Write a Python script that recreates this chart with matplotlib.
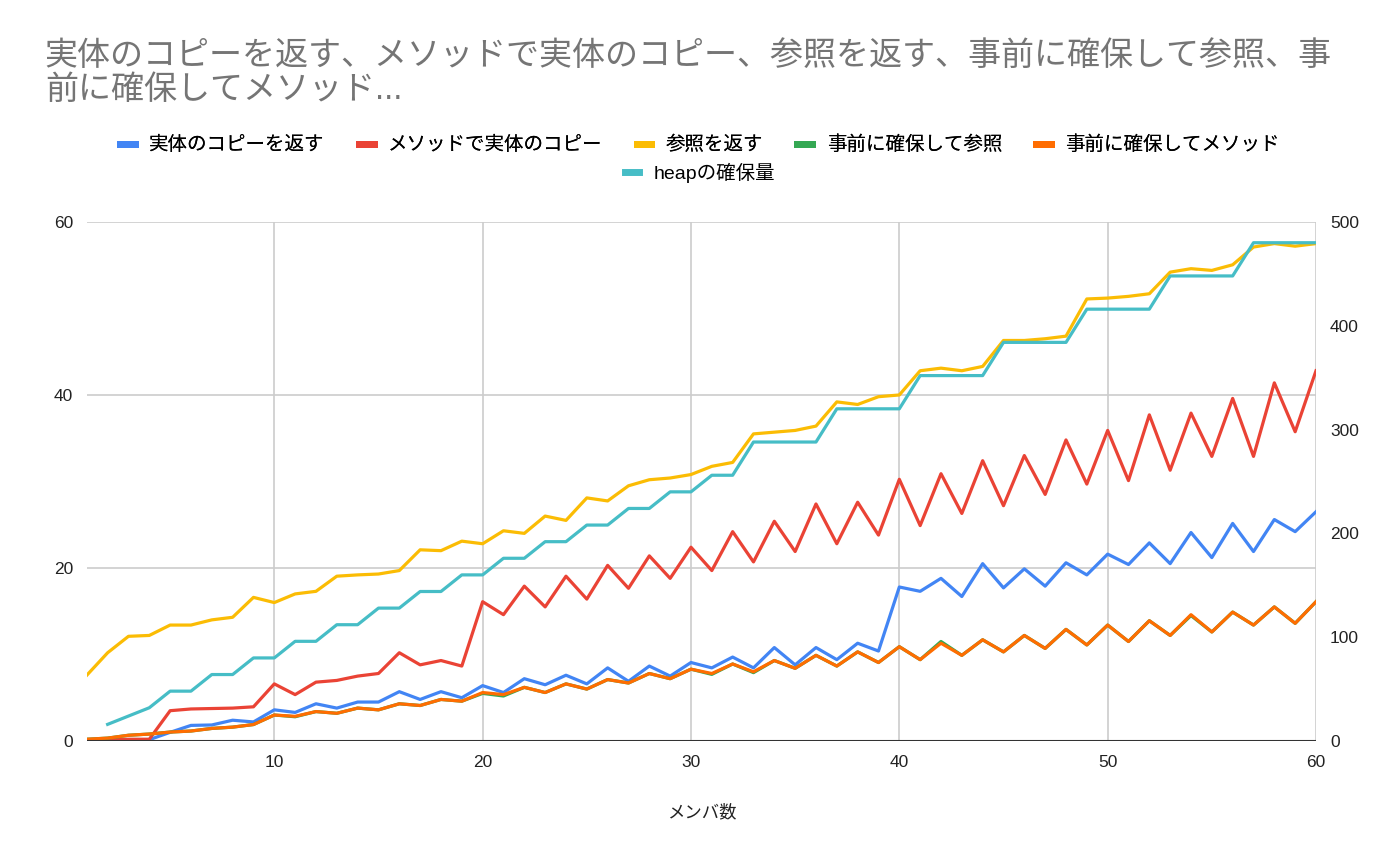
import numpy as np
import matplotlib
matplotlib.use("Agg")
import matplotlib.pyplot as plt
from matplotlib.lines import Line2D

plt.rcParams['font.family'] = ['Liberation Sans', 'Noto Sans CJK JP', 'DejaVu Sans']

members = list(range(1, 61))

copy_return = [0.1, 0.1, 0.1, 0.15, 1.0, 1.8, 1.85, 2.4, 2.2, 3.6,
               3.3, 4.3, 3.8, 4.5, 4.5, 5.7, 4.8, 5.7, 5.0, 6.4,
               5.6, 7.2, 6.5, 7.6, 6.6, 8.45, 6.9, 8.66, 7.5, 9.07,
               8.45, 9.7, 8.45, 10.8, 8.8, 10.8, 9.4, 11.3, 10.4, 17.8,
               17.3, 18.8, 16.7, 20.5, 17.7, 19.9, 17.9, 20.6, 19.2, 21.6,
               20.4, 22.9, 20.5, 24.1, 21.2, 25.15, 21.9, 25.6, 24.2, 26.5]

method_copy = [0.1, 0.15, 0.2, 0.2, 3.5, 3.7, 3.75, 3.8, 3.95, 6.6,
               5.36, 6.8, 7.0, 7.5, 7.8, 10.2, 8.8, 9.3, 8.66, 16.1,
               14.6, 17.9, 15.5, 19.05, 16.4, 20.3, 17.65, 21.4, 18.8, 22.4,
               19.7, 24.2, 20.7, 25.4, 21.9, 27.4, 22.8, 27.6, 23.8, 30.25,
               24.9, 30.9, 26.3, 32.4, 27.2, 33.0, 28.5, 34.8, 29.7, 35.9,
               30.1, 37.7, 31.3, 37.9, 32.9, 39.6, 32.9, 41.4, 35.75, 42.8]

ref_return = [7.6, 10.2, 12.1, 12.2, 13.4, 13.4, 14.0, 14.3, 16.6, 16.0,
              17.0, 17.3, 19.05, 19.2, 19.3, 19.7, 22.1, 22.0, 23.1, 22.8,
              24.3, 24.0, 26.0, 25.5, 28.1, 27.75, 29.5, 30.2, 30.4, 30.8,
              31.75, 32.2, 35.5, 35.7, 35.9, 36.4, 39.2, 38.9, 39.8, 40.0,
              42.8, 43.1, 42.8, 43.3, 46.3, 46.3, 46.5, 46.8, 51.1, 51.2,
              51.4, 51.7, 54.2, 54.6, 54.4, 55.05, 57.1, 57.5, 57.2, 57.5]

prealloc_ref = [0.2, 0.33, 0.66, 0.8, 1.03, 1.15, 1.45, 1.6, 1.9, 3.0,
                2.8, 3.4, 3.2, 3.8, 3.6, 4.3, 4.1, 4.8, 4.6, 5.5,
                5.2, 6.2, 5.6, 6.6, 6.0, 7.1, 6.7, 7.8, 7.2, 8.3,
                7.7, 8.9, 7.9, 9.3, 8.4, 9.9, 8.66, 10.3, 9.07, 10.9,
                9.4, 11.5, 9.9, 11.7, 10.3, 12.2, 10.7, 12.9, 11.1, 13.4,
                11.5, 13.9, 12.2, 14.5, 12.6, 14.9, 13.4, 15.5, 13.6, 16.1]

prealloc_method = [0.2, 0.33, 0.66, 0.8, 1.03, 1.15, 1.45, 1.6, 1.9, 3.0,
                   2.85, 3.4, 3.2, 3.8, 3.6, 4.3, 4.1, 4.8, 4.6, 5.6,
                   5.36, 6.2, 5.6, 6.6, 6.0, 7.1, 6.7, 7.8, 7.2, 8.3,
                   7.8, 8.9, 8.0, 9.3, 8.4, 9.9, 8.66, 10.3, 9.07, 10.9,
                   9.4, 11.3, 9.9, 11.7, 10.3, 12.2, 10.7, 12.9, 11.1, 13.4,
                   11.5, 13.9, 12.2, 14.6, 12.6, 14.9, 13.4, 15.5, 13.6, 16.1]

heap = [np.nan, 16, 24, 32, 48, 48, 64, 64, 80, 80,
        96, 96, 112, 112, 128, 128, 144, 144, 160, 160,
        176, 176, 192, 192, 208, 208, 224, 224, 240, 240,
        256, 256, 288, 288, 288, 288, 320, 320, 320, 320,
        352, 352, 352, 352, 384, 384, 384, 384, 416, 416,
        416, 416, 448, 448, 448, 448, 480, 480, 480, 480]

names = ['実体のコピーを返す', 'メソッドで実体のコピー', '参照を返す',
         '事前に確保して参照', '事前に確保してメソッド', 'heapの確保量']
colors = ['#4285F4', '#EA4335', '#FBBC04', '#34A853', '#FF6D01', '#46BDC6']

fig = plt.figure(figsize=(14, 8.59), dpi=100)
ax = fig.add_axes([0.062, 0.1374, 0.878, 0.6042])
ax2 = ax.twinx()

lw = 2.3
for series, c in zip([copy_return, method_copy, ref_return, prealloc_ref, prealloc_method],
                     colors[:5]):
    ax.plot(members, series, color=c, lw=lw, solid_joinstyle='round')
ax2.plot(members, heap, color=colors[5], lw=lw)

ax.set_xlim(1, 60)
ax.set_ylim(0, 60)
ax2.set_ylim(0, 500)
ax.set_xticks([10, 20, 30, 40, 50, 60])
ax.set_yticks([0, 20, 40, 60])
ax2.set_yticks([0, 100, 200, 300, 400, 500])
ax.grid(True, color='#cccccc', lw=1.2)
ax.set_axisbelow(True)
for a in (ax, ax2):
    for s in ('top', 'right', 'left', 'bottom'):
        a.spines[s].set_visible(False)
    a.tick_params(length=0, labelsize=12.5, colors='#222222')
ax.axhline(0, color='#333333', lw=1.5, zorder=5)
ax.tick_params(axis='x', pad=10)
ax.tick_params(axis='y', pad=10)
ax2.tick_params(axis='y', pad=10)
ax.set_xlabel('メンバ数', fontsize=12.5, color='#222222', labelpad=24)

fig.text(0.032, 0.9144, '実体のコピーを返す、メソッドで実体のコピー、参照を返す、事前に確保して参照、事\n前に確保してメソッド...',
         fontsize=23.8, color='#757575', ha='left', va='center', linespacing=1.12)

handles = [Line2D([], [], color=c, lw=5) for c in colors]
leg1 = fig.legend(handles[:5], names[:5], loc='center', bbox_to_anchor=(0.5, 0.831),
                  ncol=5, frameon=False, fontsize=14, handlelength=0.75,
                  handletextpad=0.75, columnspacing=1.75)
fig.legend(handles[5:], names[5:], loc='center', bbox_to_anchor=(0.5, 0.799),
           frameon=False, fontsize=14, handlelength=0.75, handletextpad=0.75)
fig.add_artist(leg1)

fig.savefig('out.png', dpi=100, facecolor='white')
